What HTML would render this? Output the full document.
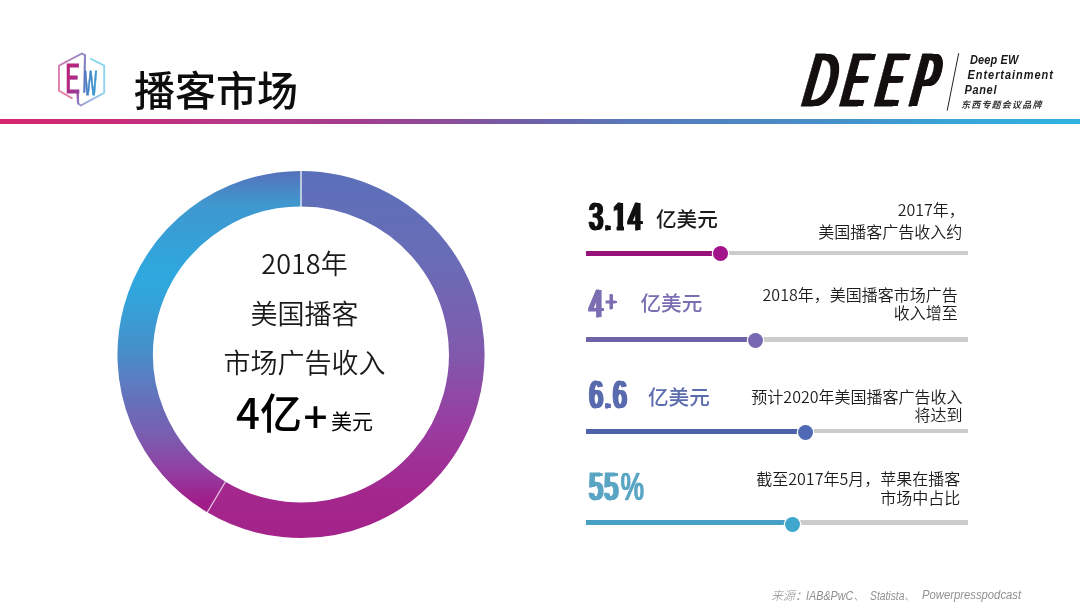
<!DOCTYPE html>
<html lang="zh-CN">
<head>
<meta charset="utf-8">
<title>播客市场</title>
<style>
  html, body { margin: 0; padding: 0; }
  body {
    width: 1080px; height: 612px; overflow: hidden; background: #ffffff;
    font-family: "Liberation Sans", "Noto Sans CJK SC", sans-serif;
    color: #1a1a1a;
  }
  .stage { position: relative; width: 1080px; height: 612px; overflow: hidden; will-change: transform; }
  .abs { position: absolute; white-space: nowrap; }
  .cjk { font-family: "Noto Sans CJK SC", "Liberation Sans", sans-serif; }

  /* header */
  .title { left: 134px; top: 58.2px; font-size: 41px; line-height: 60px; font-weight: 500; color: #0d0d0d;
           font-family: "Noto Sans CJK SC", sans-serif; }
  .rule { left: 0; top: 118.6px; width: 1080px; height: 5.6px;
          background: linear-gradient(90deg, #d6266f 0%, #c72c7a 11%, #b5388a 22%, #a33d8e 33%, #8a4e9b 42%, #6b62aa 50%, #5a78ba 58%, #4f84c2 67%, #4591ca 78%, #38a6d8 89%, #2fb3df 100%); }

  /* DEEP logo */
  .deep { left: 796.8px; top: 38.3px; font-size: 75.5px; line-height: 84px; font-weight: 400; font-style: italic;
          font-family: "Liberation Sans", sans-serif; color: #151010; transform-origin: 0 100%; transform: skewX(-10.1deg) scaleX(0.46); letter-spacing: 25px; -webkit-text-stroke: 0.9px #151010;
          text-shadow: 1.5px 0 0 #151010, 3px 0 0 #151010, 4.5px 0 0 #151010, 6px 0 0 #151010, 7.5px 0 0 #151010, 9px 0 0 #151010, 10.5px 0 0 #151010, 11px 0 0 #151010; }
  .deep .dD { display: inline-block; transform-origin: 0 100%; transform: scaleX(1.22);
          text-shadow: 1.5px 0 0 #151010, 3px 0 0 #151010, 4.5px 0 0 #151010, 6px 0 0 #151010, 7.5px 0 0 #151010; }
  .deep .dE { display: inline-block; margin-left: 4px; }
  .deep-sub { font-family: "Liberation Sans", "Noto Sans CJK SC", sans-serif; font-weight: 700; font-style: italic; color: #1a1a1a;
          font-size: 11px; line-height: 14px; letter-spacing: 0.3px; transform-origin: 0 50%; transform: scaleY(1.18); }
  .deep-cn { font-family: "Noto Sans CJK SC", sans-serif; font-weight: 700; font-style: italic; color: #333;
          font-size: 9px; line-height: 12px; letter-spacing: 1.2px; }

  /* donut text */
  .dtext { left: 154px; width: 301px; text-align: center; font-family: "Noto Sans CJK SC", sans-serif; font-weight: 350; color: #1a1a1a; }
  .d1 { top: 242.6px; font-size: 27px; line-height: 40px; }
  .d2 { top: 292.5px; font-size: 27px; line-height: 40px; }
  .d3 { top: 341.7px; font-size: 27px; line-height: 40px; }
  .d4 { top: 382.5px; font-size: 42px; line-height: 56px; font-weight: 500; color: #000; }
  .d4 .plus { position: relative; top: 4px; left: 1.5px; }
  .d4 small { font-size: 21px; font-weight: 400; margin-left: 5px; }

  /* stats */
  .num { font-family: "Liberation Sans", sans-serif; font-weight: 400; font-size: 39px; line-height: 44px;
         transform-origin: 0 0; transform: scaleX(0.63); letter-spacing: 2.6px; -webkit-text-stroke: 1.2px currentColor;
         text-shadow: 1.2px 0 0, 2.4px 0 0, 3.6px 0 0, 4.8px 0 0; }
  .num .one { display: inline-block; clip-path: polygon(-2px 0, 32px 0, 32px 30.5px, 19.1px 30.5px, 19.1px 44px, 8.1px 44px, 8.1px 30.5px, -2px 30.5px); }
  .num .pl { font-size: 30px; line-height: 0; vertical-align: 5px; margin-left: 2.5px; -webkit-text-stroke: 0.8px currentColor; text-shadow: 1.2px 0 0, 2.4px 0 0, 3px 0 0; }
  .num .pc { -webkit-text-stroke: 0.7px currentColor; text-shadow: 1px 0 0, 2px 0 0; margin-left: 2px; letter-spacing: 0; display: inline-block; transform: scaleX(1.06); transform-origin: 0 50%; }
  .unit { font-family: "Noto Sans CJK SC", sans-serif; font-weight: 500; font-size: 20.6px; line-height: 30px; }
  .desc { font-family: "Noto Sans CJK SC", sans-serif; font-weight: 350; font-size: 16px; color: #1c1c1c; text-align: right; }
  .track { left: 586px; width: 382px; height: 4.4px; background: #cccccc; }
  .fill { left: 586px; height: 4.8px; }
  .knob { width: 15px; height: 15px; border-radius: 50%; box-shadow: 0 0 0 1.2px #fff; }

  .src { top: 586px; font-size: 12px; line-height: 18px; font-style: italic; color: #909090; transform-origin: 0 50%;
         font-family: "Liberation Sans", "Noto Sans CJK SC", sans-serif; }
  .src .cjk { font-weight: 300; }
</style>
</head>
<body>
<div class="stage">

  <!-- EW hexagon logo -->
  <svg class="abs" style="left:50px; top:45px;" width="65" height="65" viewBox="50 45 65 65">
    <defs>
      <linearGradient id="gHexL" gradientUnits="userSpaceOnUse" x1="59" y1="95" x2="84" y2="53">
        <stop offset="0" stop-color="#e67ea3"/><stop offset="0.5" stop-color="#d47fb4"/><stop offset="1" stop-color="#8f85c6"/>
      </linearGradient>
      <linearGradient id="gHexR" gradientUnits="userSpaceOnUse" x1="78" y1="105" x2="104" y2="60">
        <stop offset="0" stop-color="#9d97d0"/><stop offset="0.45" stop-color="#94d2ec"/><stop offset="1" stop-color="#8ad8ef"/>
      </linearGradient>
      <linearGradient id="gStem" gradientUnits="userSpaceOnUse" x1="85" y1="55" x2="84" y2="95">
        <stop offset="0" stop-color="#8f86c4"/><stop offset="0.5" stop-color="#6f79bd"/><stop offset="1" stop-color="#4a78c2"/>
      </linearGradient>
      <linearGradient id="gTail" gradientUnits="userSpaceOnUse" x1="77" y1="92" x2="79" y2="104">
        <stop offset="0" stop-color="#9a3f9a"/><stop offset="1" stop-color="#8f8cc8"/>
      </linearGradient>
      <linearGradient id="gE" x1="0" y1="0" x2="0.6" y2="1">
        <stop offset="0" stop-color="#c61a6c"/><stop offset="0.55" stop-color="#b52580"/><stop offset="1" stop-color="#93409c"/>
      </linearGradient>
      <linearGradient id="gW" x1="0" y1="0" x2="1" y2="0.3">
        <stop offset="0" stop-color="#5b74bd"/><stop offset="0.5" stop-color="#4483c6"/><stop offset="1" stop-color="#3a9ad2"/>
      </linearGradient>
    </defs>
    <path d="M85 55.2 L81.9 53.5 L59 65.7 L59 90.7 L71.8 98.1" fill="none" stroke="url(#gHexL)" stroke-width="1.9" stroke-linejoin="round" stroke-linecap="round"/>
    <path d="M90.9 58.8 L104.2 65.7 L104.2 92.8 L80.8 105.5 L78.1 103.4" fill="none" stroke="url(#gHexR)" stroke-width="1.9" stroke-linejoin="round" stroke-linecap="round"/>
    <path d="M85 55.6 L84.3 92" fill="none" stroke="url(#gStem)" stroke-width="2.1" stroke-linecap="round"/>
    <path d="M77.6 92.6 L78.1 103.4" fill="none" stroke="url(#gTail)" stroke-width="2.3" stroke-linecap="round"/>
    <text transform="translate(64.2 93) scale(0.7 1)" font-family="Noto Sans CJK SC, Liberation Sans, sans-serif" font-weight="400" font-size="39.5" fill="url(#gE)" stroke="url(#gE)" stroke-width="0.9">E</text>
    <text transform="translate(84 95) scale(0.45 1)" font-family="Noto Sans CJK SC, Liberation Sans, sans-serif" font-weight="500" font-size="33" fill="url(#gW)" stroke="url(#gW)" stroke-width="0.9">W</text>
  </svg>

  <div class="abs title">播客市场</div>
  <div class="abs rule"></div>

  <!-- DEEP logo -->
  <div class="abs deep"><span class="dD">D</span><span class="dE">EEP</span></div>
  <svg class="abs" style="left:940px; top:45px;" width="30" height="70" viewBox="940 45 30 70">
    <line x1="958.7" y1="53.2" x2="947.2" y2="110.6" stroke="#222" stroke-width="1"/>
  </svg>
  <div class="abs deep-sub" style="left:970px; top:52.3px; letter-spacing:0.1px;">Deep EW</div>
  <div class="abs deep-sub" style="left:967.5px; top:67.3px; letter-spacing:0.95px;">Entertainment</div>
  <div class="abs deep-sub" style="left:964.5px; top:82.3px; letter-spacing:0.65px;">Panel</div>
  <div class="abs deep-cn" style="left:961px; top:98.5px;">东西专题会议品牌</div>

  <!-- donut -->
  <svg class="abs" style="left:100px; top:150px;" width="420" height="420" viewBox="100 150 420 420">
    <defs>
      <linearGradient id="gR" gradientUnits="userSpaceOnUse" x1="400" y1="171" x2="400" y2="538">
        <stop offset="0" stop-color="#5b70ba"/>
        <stop offset="0.25" stop-color="#6a6cb6"/>
        <stop offset="0.5" stop-color="#8159ac"/>
        <stop offset="0.7" stop-color="#9a3ca0"/>
        <stop offset="0.88" stop-color="#a3278d"/>
        <stop offset="1" stop-color="#a3238a"/>
      </linearGradient>
      <linearGradient id="gL" gradientUnits="userSpaceOnUse" x1="200" y1="171" x2="200" y2="514">
        <stop offset="0.000" stop-color="#5570bb"/>
        <stop offset="0.050" stop-color="#4a86c5"/>
        <stop offset="0.099" stop-color="#3f98cf"/>
        <stop offset="0.157" stop-color="#3a9cd3"/>
        <stop offset="0.230" stop-color="#33a3d9"/>
        <stop offset="0.303" stop-color="#2ea8de"/>
        <stop offset="0.362" stop-color="#31a5dc"/>
        <stop offset="0.411" stop-color="#379fd6"/>
        <stop offset="0.516" stop-color="#4690ca"/>
        <stop offset="0.609" stop-color="#5a7dc1"/>
        <stop offset="0.697" stop-color="#6b6bb8"/>
        <stop offset="0.773" stop-color="#7a5db0"/>
        <stop offset="0.872" stop-color="#9140a2"/>
        <stop offset="0.959" stop-color="#a01e8b"/>
        <stop offset="1.000" stop-color="#a21c88"/>
      </linearGradient>
    </defs>
    <g fill="none" stroke-width="35.6">
      <!-- right (large) segment: 0deg -> 210.7deg clockwise -->
      <path d="M 301 188.75 A 165.75 165.75 0 1 1 216.38 497.02" stroke="url(#gR)"/>
      <path d="M 216.38 497.02 A 165.75 165.75 0 0 1 301 188.75" stroke="url(#gL)"/>
    </g>
    <line x1="301" y1="170" x2="301" y2="208" stroke="#ffffff" stroke-opacity="0.8" stroke-width="1.5"/>
    <line x1="225.95" y1="480.9" x2="206.8" y2="513.14" stroke="#ffffff" stroke-opacity="0.65" stroke-width="1.3"/>
  </svg>

  <div class="abs dtext d1">2018年</div>
  <div class="abs dtext d2">美国播客</div>
  <div class="abs dtext d3">市场广告收入</div>
  <div class="abs dtext d4">4亿<span class="plus">+</span><small>美元</small></div>

  <!-- stats -->
  <div class="abs num" style="left:587.5px; top:195.3px; color:#111111;">3.<span class="one">1</span>4</div>
  <div class="abs unit" style="left:656px; top:203.4px; color:#1a1a1a;">亿美元</div>
  <div class="abs desc" style="right:117.7px; top:198.00px; line-height:22px;"><span style="position:relative; left:2.5px;">2017年，</span><br>美国播客广告收入约</div>
  <div class="abs track" style="top:251.1px;"></div>
  <div class="abs fill" style="top:250.9px; width:134.6px; background:#96137c;"></div>
  <div class="abs knob" style="left:713.1px; top:246.4px; background:#a3148a;"></div>
  <div class="abs num" style="left:587.5px; top:281.9px; color:#7b6db1;">4<span class="pl">+</span></div>
  <div class="abs unit" style="left:640.5px; top:287.2px; color:#7b6db1;">亿美元</div>
  <div class="abs desc" style="right:122.3px; top:284.75px; line-height:18.5px;">2018年，美国播客市场广告<br>收入增至</div>
  <div class="abs track" style="top:337.4px;"></div>
  <div class="abs fill" style="top:337.2px; width:169.3px; background:#6e63a8;"></div>
  <div class="abs knob" style="left:747.8px; top:333.1px; background:#7868b2;"></div>
  <div class="abs num" style="left:587.5px; top:373.2px; color:#5a6bae;">6.6</div>
  <div class="abs unit" style="left:648px; top:381.4px; color:#5a6bae;">亿美元</div>
  <div class="abs desc" style="right:117.5px; top:386.75px; line-height:18.5px;">预计2020年美国播客广告收入<br>将达到</div>
  <div class="abs track" style="top:429.1px;"></div>
  <div class="abs fill" style="top:428.9px; width:219.0px; background:#4e62ac;"></div>
  <div class="abs knob" style="left:797.5px; top:424.5px; background:#4f69b5;"></div>
  <div class="abs num" style="left:587.5px; top:465.2px; color:#5aa5c4;">55<span class="pc">%</span></div>
  <div class="abs desc" style="right:119.8px; top:468.50px; line-height:19px;">截至2017年5月，苹果在播客<br>市场中占比</div>
  <div class="abs track" style="top:520.4px;"></div>
  <div class="abs fill" style="top:520.2px; width:206.3px; background:#46a1c5;"></div>
  <div class="abs knob" style="left:784.8px; top:516.9px; background:#3fa6cc;"></div>

  <div class="abs src" style="left:771px;"><span class="cjk">来源</span>：</div>
  <div class="abs src" style="left:806px; transform:scaleX(0.90);">IAB&amp;PwC<span class="cjk">、</span></div>
  <div class="abs src" style="left:870px; transform:scaleX(0.86);">Statista<span class="cjk">、</span></div>
  <div class="abs src" style="left:922px; transform:scaleX(0.94);">Powerpresspodcast</div>
</div>
</body>
</html>
